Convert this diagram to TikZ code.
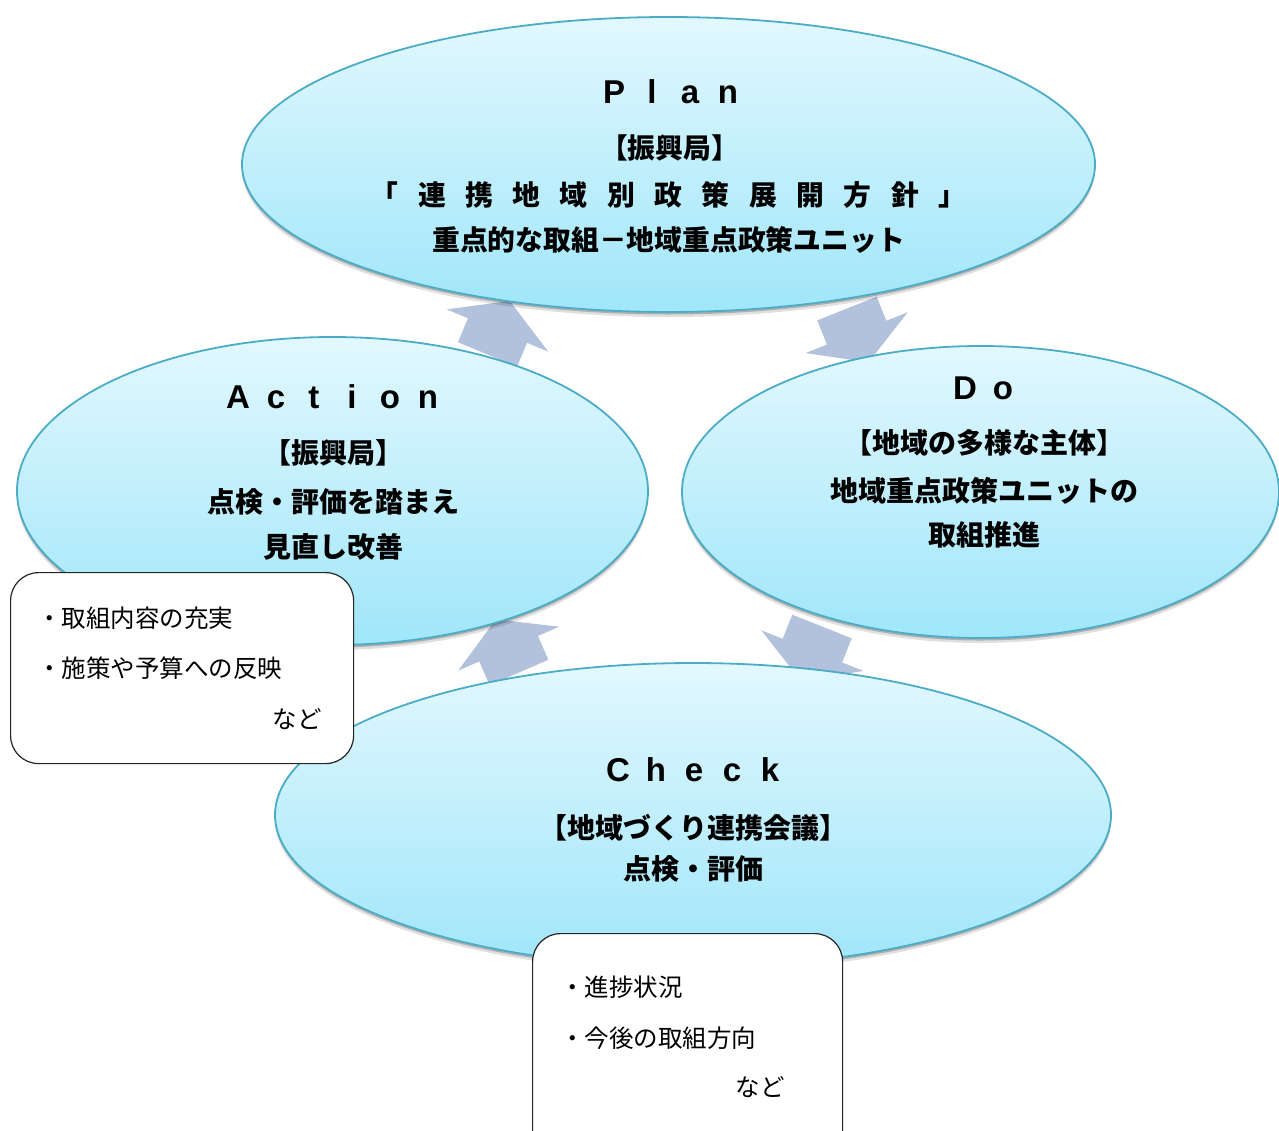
\documentclass[tikz,border=0pt]{standalone}
\usepackage{fontspec}
\setmainfont{Noto Sans CJK JP}
\newfontfamily\jp{Noto Sans CJK JP}
\newfontfamily\hd{Liberation Sans}
\usetikzlibrary{shapes.geometric,shadows}
\definecolor{elTop}{RGB}{226,248,254}
\definecolor{elBot}{RGB}{160,230,250}
\definecolor{elLine}{RGB}{75,172,198}
\definecolor{arFill}{RGB}{178,193,220}
\newcommand\hcell[1]{\makebox[38pt][c]{#1}}
\newcommand\pcell[1]{\makebox[47.3pt][c]{#1}}
\begin{document}
\begin{tikzpicture}[x=1pt,y=1pt,
  pdca/.style={ellipse, draw=elLine, line width=1.8pt, top color=elTop, bottom color=elBot,
    inner sep=0pt, outer sep=0pt,
    drop shadow={shadow xshift=0pt, shadow yshift=-5pt, opacity=0.12, fill=black},
    drop shadow={shadow xshift=0pt, shadow yshift=-2.5pt, opacity=0.22, fill=black}},
  head/.style={anchor=base, inner sep=0pt, font=\hd\bfseries\fontsize{33}{40}\selectfont},
  ptext/.style={anchor=base, inner sep=0pt, font=\jp\bfseries\fontsize{27.8}{33}\selectfont},
  btext/.style={anchor=base, inner sep=0pt, font=\jp\bfseries\fontsize{28}{34}\selectfont},
  note/.style={draw=black!85, line width=1.2pt, fill=white, rounded corners=28pt, inner sep=0pt},
  ntext/.style={inner sep=0pt, font=\jp\fontsize{24.5}{30}\selectfont},
  blockarrow/.pic={\fill[arFill] (0,-32) -- (26,-32) -- (26,-55) -- (58,0) -- (26,55) -- (26,32) -- (0,32) -- cycle;}
]
\useasboundingbox (0,0) rectangle (1279,-1130);

% block arrows (behind the ellipses)
\pic (arA) [rotate=67.4] at (487.5,-354.5) {blockarrow};
\pic (arB) [rotate=-68.2] at (847,-308.5) {blockarrow};
\pic (arC) [rotate=113.5] at (519,-672.5) {blockarrow};
\pic (arD) [rotate=248.3] at (822,-626.5) {blockarrow};

% ellipses
\node[pdca, minimum width=853pt, minimum height=295pt] (plan) at (668.5,-164.5) {};
\node[pdca, minimum width=631pt, minimum height=308pt] (action) at (332.5,-491) {};
\node[pdca, minimum width=597pt, minimum height=292pt] (do) at (980.5,-492) {};
\node[pdca, minimum width=836pt, minimum height=304pt] (check) at (693,-815) {};

% headings
\node[head] (planH) at (671,-103.5) {\hcell{P}\hcell{l}\hcell{a}\hcell{n}};
\node[head] (actH) at (333,-408) {\hcell{A}\hcell{c}\hcell{t}\hcell{i}\hcell{o}\hcell{n}};
\node[head] (doH) at (984,-399) {\hcell{D}\hcell{o}};
\node[head] (chkH) at (694,-781.5) {\hcell{C}\hcell{h}\hcell{e}\hcell{c}\hcell{k}};

% Plan text
\node[ptext] (plan1) at (669.5,-158.6) {【振興局】};
\node[ptext] (plan2) at (668.5,-205.6) {\pcell{「}\pcell{連}\pcell{携}\pcell{地}\pcell{域}\pcell{別}\pcell{政}\pcell{策}\pcell{展}\pcell{開}\pcell{方}\pcell{針}\pcell{」}};
\node[ptext] (plan3) at (668.5,-250.6) {重点的な取組－地域重点政策ユニット};

% Action text
\node[btext] (act1) at (333,-463) {【振興局】};
\node[btext] (act2) at (333,-512) {点検・評価を踏まえ};
\node[btext] (act3) at (333,-557) {見直し改善};

% Do text
\node[btext] (do1) at (984.5,-453) {【地域の多様な主体】};
\node[btext] (do2) at (984.5,-501.5) {地域重点政策ユニットの};
\node[btext] (do3) at (984.5,-545.6) {取組推進};

% Check text
\node[btext] (chk1) at (693,-838.5) {【地域づくり連携会議】};
\node[btext] (chk2) at (693,-879.6) {点検・評価};

% note boxes
\node[note, minimum width=343pt, minimum height=191pt, anchor=north west] (noteA) at (10,-572) {};
\node[ntext, anchor=base west] (noteA1) at (37,-627) {・取組内容の充実};
\node[ntext, anchor=base west] (noteA2) at (37,-677) {・施策や予算への反映};
\node[ntext, anchor=base east] (noteA3) at (322,-728) {など};

\node[note, minimum width=310pt, minimum height=240pt, anchor=north west] (noteB) at (532,-933) {};
\node[ntext, anchor=base west] (noteB1) at (560,-996) {・進捗状況};
\node[ntext, anchor=base west] (noteB2) at (560,-1047) {・今後の取組方向};
\node[ntext, anchor=base east] (noteB3) at (785,-1096) {など};
\end{tikzpicture}
\end{document}
